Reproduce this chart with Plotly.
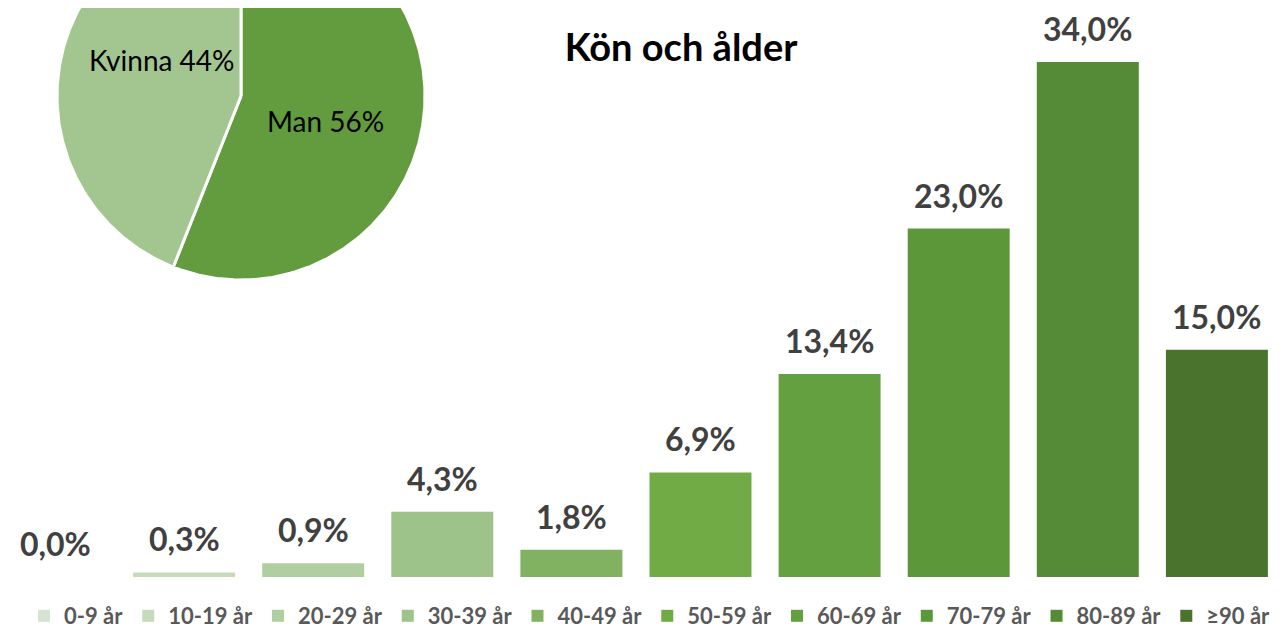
import numpy as np
import plotly.graph_objects as go

# ---- data ----
age_groups = ["0-9 år", "10-19 år", "20-29 år", "30-39 år", "40-49 år",
              "50-59 år", "60-69 år", "70-79 år", "80-89 år", "≥90 år"]
age_share = [0.0, 0.3, 0.9, 4.3, 1.8, 6.9, 13.4, 23.0, 34.0, 15.0]
gender_labels = ["Man", "Kvinna"]
gender_share = [56, 44]

# ---- styles ----
bar_colors = ["#d5e3cf", "#c5dbb9", "#b0cfa1", "#9dc28a", "#80b262",
              "#70ab46", "#64a03f", "#5c973a", "#558a36", "#4a742e"]
pie_colors = ["#639b3f", "#a3c690"]
# label anchor points inside the (clipped) pie, in pie-radius units
pie_label_pos = [(0.457, -0.136), (-0.43, 0.196)]

OFF = 8                      # page body margin
W, H = 1287 - OFF, 628 - OFF
ML, MR, MT, MB = 0, 0, 0, 51
PW, PH = W - ML - MR, H - MT - MB
slot = 129.1
first_center = 55 - OFF
px_per_pct = 15.15
ymax = PH / px_per_pct

fig = go.Figure()

for name, val, col in zip(age_groups, age_share, bar_colors):
    fig.add_trace(go.Bar(x=[name], y=[val], name=name, marker_color=col,
                         marker_line_width=0, xaxis="x", yaxis="y",
                         hovertemplate="%{x}: %{y:.1f}%<extra></extra>"))

# bar value labels
for name, val in zip(age_groups, age_share):
    fig.add_annotation(x=name, y=val, xref="x", yref="y",
                       text=f"{val:.1f}%".replace(".", ","),
                       showarrow=False, yanchor="bottom", yshift=12,
                       font=dict(family="Lato", size=32, color="#404040", weight="bold"))

# ---- pie drawn on secondary axes (unit circle), top cut off like the reference ----
cx, cy, R = 241 - OFF, 96 - OFF, 184   # pie centre / radius in pixels of the plot area
total = sum(gender_share)
start = 0.0  # degrees clockwise from 12 o'clock
for lab, v, col, (lx, ly) in zip(gender_labels, gender_share, pie_colors, pie_label_pos):
    span = 360.0 * v / total
    ang = np.radians(np.linspace(start, start + span, 240))
    xs = np.concatenate([[0], np.sin(ang), [0]])
    ys = np.concatenate([[0], np.cos(ang), [0]])
    fig.add_trace(go.Scatter(x=xs, y=ys, fill="toself", fillcolor=col, mode="lines",
                             line=dict(color="white", width=3), xaxis="x2", yaxis="y2",
                             showlegend=False, hoverinfo="text",
                             text=f"{lab} {v}%"))
    fig.add_annotation(x=lx, y=ly, xref="x2", yref="y2",
                       text=f"{lab} {v}%", showarrow=False,
                       font=dict(family="Lato", size=28, color="#000000"))
    start += span

fig.update_layout(
    width=W, height=H,
    margin=dict(l=ML, r=MR, t=MT, b=MB, autoexpand=False),
    paper_bgcolor="white", plot_bgcolor="rgba(0,0,0,0)",
    separators=",.",
    barmode="overlay", bargap=0.21,
    showlegend=True,
    legend=dict(orientation="h", xref="container", yref="container",
                x=(650 - OFF) / W, xanchor="center",
                y=(H - (616 - OFF)) / H, yanchor="middle",
                font=dict(family="Lato", size=22, color="#595959", weight="bold"),
                itemwidth=30, tracegroupgap=0),
    title=dict(text="<b>Kön och ålder</b>", x=(681 - OFF) / W, xanchor="center",
               y=1 - (48 - OFF) / H, yanchor="middle",
               font=dict(family="Lato", size=38, color="#000000")),
    xaxis=dict(type="category", range=[-first_center / slot, (PW - first_center) / slot],
               showticklabels=False, showgrid=False, zeroline=False, showline=False,
               fixedrange=True),
    yaxis=dict(range=[0, ymax], showticklabels=False, showgrid=False, zeroline=False,
               showline=False, fixedrange=True),
    xaxis2=dict(domain=[0, 1], anchor="y2", range=[-cx / R, (PW - cx) / R], visible=False,
                fixedrange=True),
    yaxis2=dict(domain=[0, 1], anchor="x2", range=[(cy - PH) / R, cy / R], visible=False,
                fixedrange=True),
)

fig.write_html("out.html")
